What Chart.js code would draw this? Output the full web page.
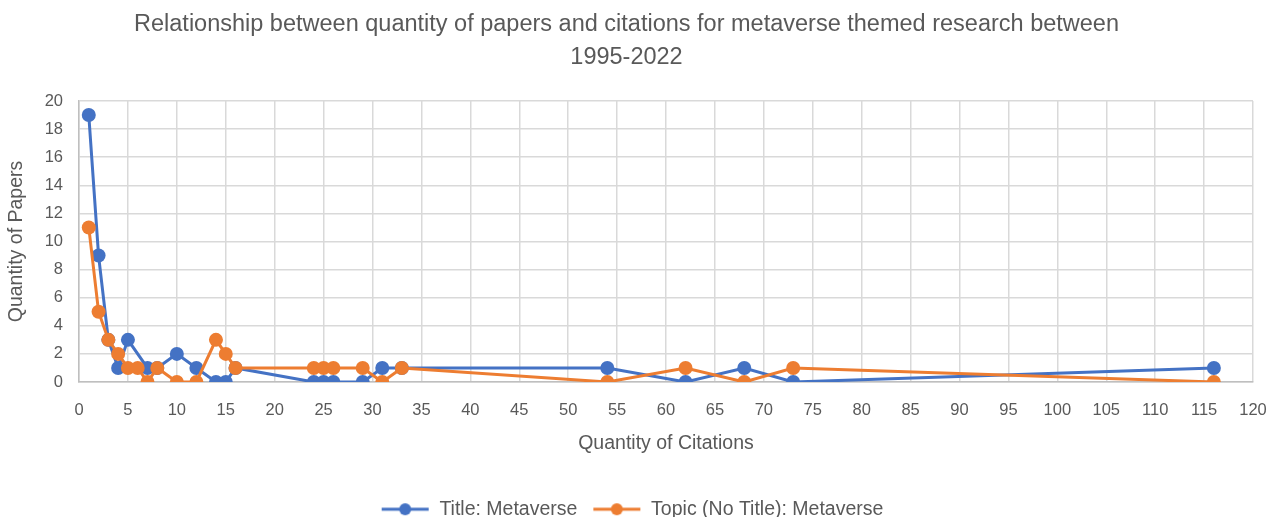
<!DOCTYPE html>
<html>
<head>
<meta charset="utf-8">
<script src="https://cdn.jsdelivr.net/npm/chart.js@4/dist/chart.umd.min.js"></script>
<style>
  html, body { margin: 0; padding: 0; background: #ffffff; }
  #wrap { width: 1272px; height: 517px; position: relative; }
</style>
</head>
<body>
<div id="wrap"><canvas id="c" width="1272" height="517"></canvas></div>
<script>
// ---- data ----
const titleCitations = [1, 2, 3, 4, 5, 7, 8, 10, 12, 14, 15, 16, 24, 25, 26, 29, 31, 33, 54, 62, 68, 73, 116];
const titlePapers    = [19, 9, 3, 1, 3, 1, 1, 2, 1, 0, 0, 1, 0, 0, 0, 0, 1, 1, 1, 0, 1, 0, 1];
const topicCitations = [1, 2, 3, 4, 5, 6, 7, 8, 10, 12, 14, 15, 16, 24, 25, 26, 29, 31, 33, 54, 62, 68, 73, 116];
const topicPapers    = [11, 5, 3, 2, 1, 1, 0, 1, 0, 0, 3, 2, 1, 1, 1, 1, 1, 0, 1, 0, 1, 0, 1, 0];
const seriesNames = ['Title: Metaverse', 'Topic (No Title): Metaverse'];
const chartTitle = ['Relationship between quantity of papers and citations for metaverse themed research between', '1995-2022'];
const xAxisTitle = 'Quantity of Citations';
const yAxisTitle = 'Quantity of Papers';

const BLUE = '#4472C4';
const ORANGE = '#ED7D31';
const TEXT = '#595959';
const GRID = '#d9d9d9';
const FONT = "'Liberation Sans', Arial, sans-serif";

function toPoints(xs, ys) { return xs.map((x, i) => ({ x: x, y: ys[i] })); }

function legendIcon(color) {
  const c = document.createElement('canvas');
  c.width = 60; c.height = 16;
  const g = c.getContext('2d');
  g.strokeStyle = color; g.lineWidth = 3; g.lineCap = 'butt';
  g.beginPath(); g.moveTo(12, 8); g.lineTo(59, 8); g.stroke();
  g.fillStyle = color;
  g.beginPath(); g.arc(35.5, 8, 6, 0, Math.PI * 2); g.fill();
  return c;
}
const icons = [legendIcon(BLUE), legendIcon(ORANGE)];

new Chart(document.getElementById('c'), {
  type: 'scatter',
  data: {
    datasets: [
      {
        label: seriesNames[0],
        data: toPoints(titleCitations, titlePapers),
        showLine: true,
        borderColor: BLUE, backgroundColor: BLUE,
        borderWidth: 3, pointRadius: 7, pointHoverRadius: 7,
        pointBorderWidth: 0, order: 1
      },
      {
        label: seriesNames[1],
        data: toPoints(topicCitations, topicPapers),
        showLine: true,
        borderColor: ORANGE, backgroundColor: ORANGE,
        borderWidth: 3, pointRadius: 7, pointHoverRadius: 7,
        pointBorderWidth: 0, order: 0
      }
    ]
  },
  options: {
    responsive: false,
    animation: false,
    devicePixelRatio: 1,
    layout: { padding: { left: 0, right: 19, top: 0, bottom: -12 } },
    plugins: {
      tooltip: { enabled: false },
      title: {
        display: true,
        text: chartTitle,
        color: TEXT,
        font: { family: FONT, size: 23.5, weight: 'normal', lineHeight: 33 / 23.5 },
        padding: { top: 8, bottom: 27 }
      },
      legend: {
        position: 'bottom',
        labels: {
          color: TEXT,
          font: { family: FONT, size: 19.5 },
          usePointStyle: true,
          pointStyleWidth: 60,
          padding: 4,
          sort: (a, b) => a.datasetIndex - b.datasetIndex,
          generateLabels: (chart) => {
            const base = Chart.defaults.plugins.legend.labels.generateLabels(chart);
            return base.map(l => Object.assign({}, l, { pointStyle: icons[l.datasetIndex] }));
          }
        }
      }
    },
    scales: {
      x: {
        type: 'linear',
        min: 0, max: 120,
        ticks: { stepSize: 5, color: TEXT, font: { family: FONT, size: 16.5 }, padding: 19, maxRotation: 0, autoSkip: false },
        grid: { color: GRID, lineWidth: 1.5, drawTicks: false },
        border: { color: '#bfbfbf', width: 1.5 },
        title: { display: true, text: xAxisTitle, color: TEXT, font: { family: FONT, size: 19.5 }, padding: { top: 0, bottom: 40 } },
        afterFit: (s) => { s.height = 113.5; s.paddingRight = 0; s.paddingLeft = 0; }
      },
      y: {
        type: 'linear',
        min: 0, max: 20,
        ticks: { stepSize: 2, color: TEXT, font: { family: FONT, size: 16.5 }, padding: 16 },
        grid: { color: GRID, lineWidth: 1.5, drawTicks: false },
        border: { color: '#bfbfbf', width: 1.5 },
        title: { display: true, text: yAxisTitle, color: TEXT, font: { family: FONT, size: 19.5 }, padding: { top: 5, bottom: 0 } },
        afterFit: (s) => { s.width = 79; }
      }
    }
  }
});
</script>
</body>
</html>
